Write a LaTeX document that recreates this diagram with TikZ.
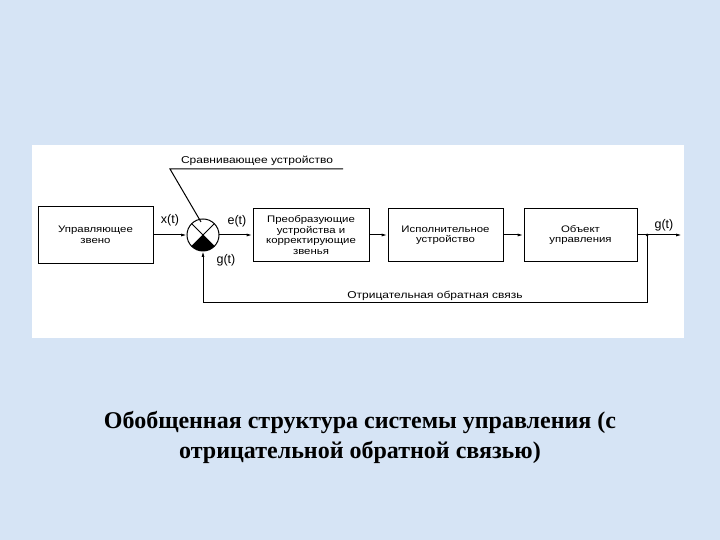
\documentclass[tikz,border=0pt]{standalone}
\usepackage{fontspec}
\setmainfont{Liberation Serif}
\newfontfamily\diagfont[FakeStretch=1.2]{Liberation Sans}
\newfontfamily\sigfont{Liberation Sans}
\usetikzlibrary{arrows.meta}
\definecolor{bgblue}{RGB}{214,228,245}
\begin{document}
\begin{tikzpicture}[x=1pt,y=1pt,
  blk/.style={draw, line width=1pt, minimum height=53pt, inner sep=1pt, align=center,
    font=\diagfont\fontsize{9.5}{10.5}\selectfont},
  lbl/.style={font=\diagfont\fontsize{10}{12}\selectfont, inner sep=0pt},
  sig/.style={font=\sigfont\fontsize{12.5}{14}\selectfont, inner sep=0pt},
  arr/.style={line width=1pt, -{Latex[length=6pt,width=3pt]}},
  ln/.style={line width=1pt}]
\fill[bgblue] (0,0) rectangle (720,540);
\useasboundingbox (0,0) rectangle (720,540);
\fill[white] (32,202) rectangle (684,395);
% blocks
\node[blk, minimum width=115pt, minimum height=57pt] (b1) at (95.5,305) {Управляющее\\звено};
\node[circle, draw, line width=1pt, minimum size=32pt, inner sep=0pt, outer sep=0pt] (cmp) at (203,305) {};
\node[blk, minimum width=116pt] (b2) at (311,305) {Преобразующие\\устройства и\\корректирующие\\звенья};
\node[blk, minimum width=115pt] (b3) at (445.5,305) {Исполнительное\\устройство};
\node[blk, minimum width=113pt] (b4) at (580.5,305) {Объект\\управления};
% comparator sectors
\fill (cmp.center) -- (cmp.-45) arc[start angle=-45, end angle=-135, radius=16pt] -- cycle;
\draw[ln] (cmp.45) -- (cmp.-135);
\draw[ln] (cmp.135) -- (cmp.-45);
% coordinates
\coordinate (j) at (647,305);
\coordinate (out) at (682,305);
\coordinate (fb1) at (647,237);
\coordinate (fb2) at (203,237);
\coordinate (ul1) at (170,371);
\coordinate (ul2) at (343,371);
\coordinate (ptr) at (201,318);
% connectors
\draw[arr] (b1.east) -- (cmp.west);
\draw[arr] (cmp.east) -- (b2.west);
\draw[arr] (b2.east) -- (b3.west);
\draw[arr] (b3.east) -- (b4.west);
\draw[arr] (b4.east) -- (out);
\fill (j) circle (1.5pt);
\draw[arr] (j) -- (fb1) -- (fb2) -- (cmp.south);
\draw[ln] (ul2) -- (ul1) -- (ptr);
% labels
\node[sig] (xt) at (170,320) {x(t)};
\node[sig] (et) at (237,319) {e(t)};
\node[sig] (gt1) at (226,280) {g(t)};
\node[sig] (gt2) at (664,315) {g(t)};
\node[lbl, anchor=south] (cmplbl) at (257,374) {Сравнивающее устройство};
\node[lbl] (fblbl) at (435,244) {Отрицательная обратная связь};
% title
\node[font=\bfseries\fontsize{24}{30}\selectfont, align=center] (title) at (360,103)
  {Обобщенная структура системы управления (с\\отрицательной обратной связью)};
\end{tikzpicture}
\end{document}
